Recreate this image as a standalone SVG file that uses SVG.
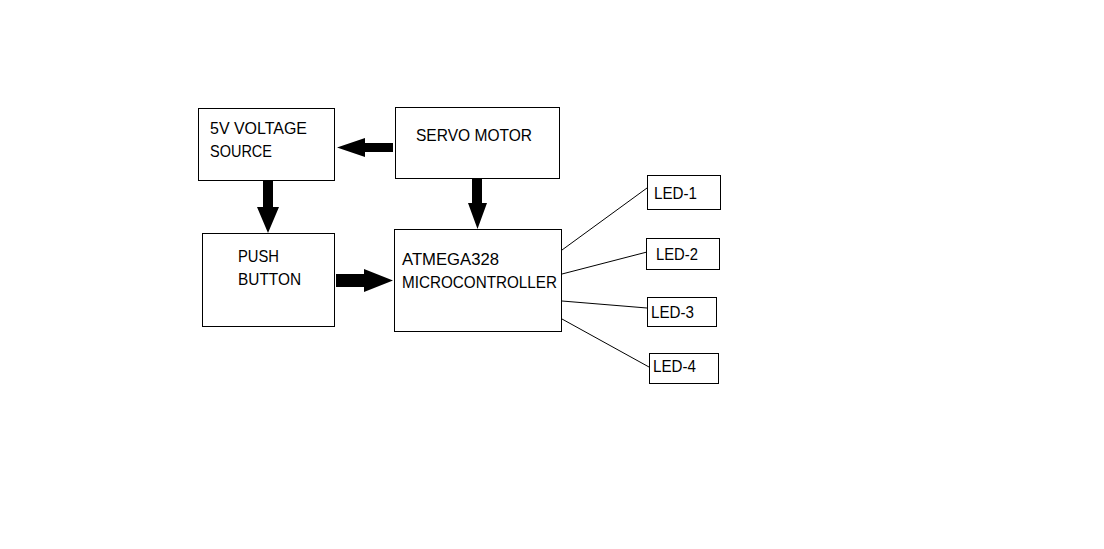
<svg xmlns="http://www.w3.org/2000/svg" width="1104" height="549" viewBox="0 0 1104 549">
<style>
.box{fill:#fff;stroke:#000;stroke-width:1}
.t{font-family:"Liberation Sans",Arial,sans-serif;font-size:16.5px;fill:#000}
.w{stroke:#000;stroke-width:1;fill:none}
.a{fill:#000;stroke:none}
</style>
<rect width="1104" height="549" fill="#fff"/>
<g id="voltage">
<rect class="box" x="198.5" y="108.5" width="136" height="72"/>
<text class="t" x="210" y="134" textLength="97" lengthAdjust="spacingAndGlyphs">5V VOLTAGE</text>
<text class="t" x="210" y="157" textLength="62" lengthAdjust="spacingAndGlyphs">SOURCE</text>
</g>
<g id="servo">
<rect class="box" x="395.5" y="107.5" width="164" height="71"/>
<text class="t" x="416" y="141" textLength="116" lengthAdjust="spacingAndGlyphs">SERVO MOTOR</text>
</g>
<g id="push">
<rect class="box" x="202.5" y="233.5" width="132" height="93"/>
<text class="t" x="238" y="262" textLength="41" lengthAdjust="spacingAndGlyphs">PUSH</text>
<text class="t" x="238" y="285" textLength="63" lengthAdjust="spacingAndGlyphs">BUTTON</text>
</g>
<g id="mcu">
<rect class="box" x="394.5" y="229.5" width="167" height="102"/>
<text class="t" x="402" y="265" textLength="97" lengthAdjust="spacingAndGlyphs">ATMEGA328</text>
<text class="t" x="402" y="288" textLength="155" lengthAdjust="spacingAndGlyphs">MICROCONTROLLER</text>
</g>
<g id="led1">
<rect class="box" x="647.5" y="175.5" width="73" height="34"/>
<text class="t" x="654" y="199" textLength="43" lengthAdjust="spacingAndGlyphs">LED-1</text>
</g>
<g id="led2">
<rect class="box" x="646.5" y="238.5" width="73" height="31"/>
<text class="t" x="656" y="260" textLength="42" lengthAdjust="spacingAndGlyphs">LED-2</text>
</g>
<g id="led3">
<rect class="box" x="647.5" y="297.5" width="69" height="29"/>
<text class="t" x="651" y="318" textLength="43" lengthAdjust="spacingAndGlyphs">LED-3</text>
</g>
<g id="led4">
<rect class="box" x="649.5" y="353.5" width="69" height="30"/>
<text class="t" x="653" y="372" textLength="43" lengthAdjust="spacingAndGlyphs">LED-4</text>
</g>
<g id="connectors">
<polygon class="a" points="393,143 365,143 365,138 337,147.5 365,157 365,152 393,152"/>
<polygon class="a" points="263,181 273,181 273,207 279,207 268,233 257,207 263,207"/>
<polygon class="a" points="472,179 482,179 482,203 487,203 477.5,229 468,203 472,203"/>
<polygon class="a" points="336,274 364,274 364,269 393,280.5 364,292 364,287 336,287"/>
<line class="w" x1="562" y1="250" x2="647" y2="188"/>
<line class="w" x1="562" y1="274" x2="647" y2="252"/>
<line class="w" x1="562" y1="301" x2="647" y2="308"/>
<line class="w" x1="562" y1="319" x2="649" y2="367"/>
</g>
</svg>
